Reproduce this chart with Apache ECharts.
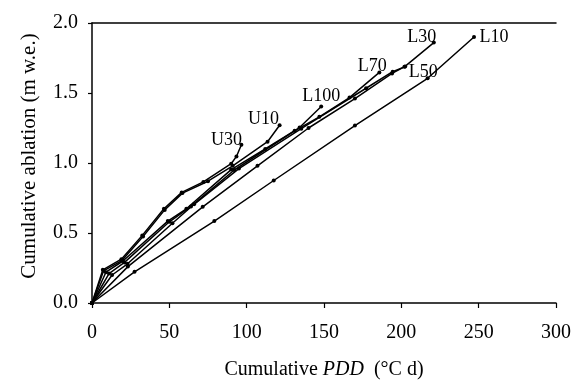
<!DOCTYPE html>
<html>
<head>
<meta charset="utf-8">
<script src="https://cdn.jsdelivr.net/npm/echarts@6/dist/echarts.min.js"></script>
<style>
html, body { margin: 0; padding: 0; background: #fff; }
#chart { width: 574px; height: 385px; }
</style>
</head>
<body>
<div id="chart"></div>
<script>
// cumulative PDD (°C d) and cumulative ablation (m w.e.) per stake
const u30Pdd = [0, 7, 19, 32.5, 46.5, 58, 72, 90, 93.4, 96.6]
const u30Abl = [0, 0.237, 0.313, 0.483, 0.673, 0.79, 0.865, 0.995, 1.047, 1.13]

const u10Pdd = [0, 7.5, 19.5, 33, 47, 58.5, 75, 91, 113.5, 121.3]
const u10Abl = [0, 0.23, 0.305, 0.475, 0.665, 0.785, 0.87, 0.98, 1.152, 1.27]

const l100Pdd = [0, 9, 20, 49, 61, 90, 112, 134.2, 148.2]
const l100Abl = [0, 0.22, 0.3, 0.585, 0.673, 0.953, 1.1, 1.253, 1.403]

const l70Pdd = [0, 11, 21, 50, 64, 92, 131, 147, 166.5, 185.8]
const l70Abl = [0, 0.21, 0.29, 0.58, 0.69, 0.95, 1.23, 1.33, 1.467, 1.647]

const l30Pdd = [0, 13, 23, 52, 66, 95, 135.3, 177.2, 194.4, 202, 221]
const l30Abl = [0, 0.2, 0.28, 0.57, 0.705, 0.96, 1.245, 1.534, 1.652, 1.687, 1.86]

const l50Pdd = [0, 23.2, 71.6, 107, 140, 170, 194, 202.5]
const l50Abl = [0, 0.26, 0.687, 0.98, 1.25, 1.46, 1.64, 1.69]

const l10Pdd = [0, 27.5, 79.1, 117.5, 170, 217, 247]
const l10Abl = [0, 0.223, 0.585, 0.875, 1.267, 1.605, 1.9]

const xTicks = [0, 50, 100, 150, 200, 250, 300]
const yTicks = [0, 0.5, 1.0, 1.5, 2.0]

// where each stake name sits relative to its last point (px)
const labelOffsets = {
  U30: [-15, -5],
  U10: [-16, -6],
  L100: [0, -10],
  L70: [-7, -6],
  L30: [-12, -5],
  L50: [18, 6],
  L10: [20, 0]
}

const FONT = 'Liberation Serif'

const makeSeries = (name, pdd, abl) => ({
  name,
  type: 'line',
  data: pdd.map((x, i) => {
    const item = { value: [x, abl[i]] }
    if (i === pdd.length - 1) {
      item.label = {
        show: true,
        position: 'inside',
        align: 'center',
        verticalAlign: 'middle',
        offset: labelOffsets[name],
        formatter: name,
        color: '#000',
        fontFamily: FONT,
        fontSize: 18
      }
    }
    return item
  }),
  symbol: 'circle',
  symbolSize: 4,
  showSymbol: true,
  lineStyle: { color: '#000', width: 1.5 },
  itemStyle: { color: '#000' },
  emphasis: { disabled: true },
  animation: false
})

const chart = echarts.init(document.getElementById('chart'))

chart.setOption({
  animation: false,
  grid: { left: 92, right: 17, top: 23, bottom: 81 },
  xAxis: [
    {
      type: 'value',
      min: xTicks[0],
      max: xTicks[xTicks.length - 1],
      interval: 50,
      name: 'Cumulative {i|PDD}  (°C d)',
      nameLocation: 'middle',
      nameGap: 57,
      nameTextStyle: {
        color: '#000',
        fontFamily: FONT,
        fontSize: 20,
        rich: {
          i: { fontStyle: 'italic', fontFamily: FONT, fontSize: 20, color: '#000' }
        }
      },
      axisLine: { show: true, lineStyle: { color: '#000', width: 1.5 } },
      axisTick: { show: true, inside: false, length: 5, lineStyle: { color: '#000', width: 1.2 } },
      axisLabel: { color: '#000', fontFamily: FONT, fontSize: 20, margin: 20 },
      splitLine: { show: false }
    },
    {
      type: 'value',
      position: 'top',
      min: xTicks[0],
      max: xTicks[xTicks.length - 1],
      axisLine: { show: true, lineStyle: { color: '#000', width: 1.5 } },
      axisTick: { show: false },
      axisLabel: { show: false },
      splitLine: { show: false }
    }
  ],
  yAxis: {
    type: 'value',
    min: yTicks[0],
    max: yTicks[yTicks.length - 1],
    interval: 0.5,
    name: 'Cumulative ablation (m w.e.)',
    nameLocation: 'middle',
    nameGap: 52,
    nameTextStyle: {
      color: '#000',
      fontFamily: FONT,
      fontSize: 21,
      padding: [0, 0, 0, 14]
    },
    axisLine: { show: true, lineStyle: { color: '#000', width: 1.5 } },
    axisTick: { show: true, inside: false, length: 4, lineStyle: { color: '#000', width: 1.2 } },
    axisLabel: {
      color: '#000',
      fontFamily: FONT,
      fontSize: 20,
      margin: 14,
      formatter: v => v.toFixed(1)
    },
    splitLine: { show: false }
  },
  series: [
    makeSeries('U30', u30Pdd, u30Abl),
    makeSeries('U10', u10Pdd, u10Abl),
    makeSeries('L100', l100Pdd, l100Abl),
    makeSeries('L70', l70Pdd, l70Abl),
    makeSeries('L30', l30Pdd, l30Abl),
    makeSeries('L50', l50Pdd, l50Abl),
    makeSeries('L10', l10Pdd, l10Abl)
  ]
})
</script>
</body>
</html>
